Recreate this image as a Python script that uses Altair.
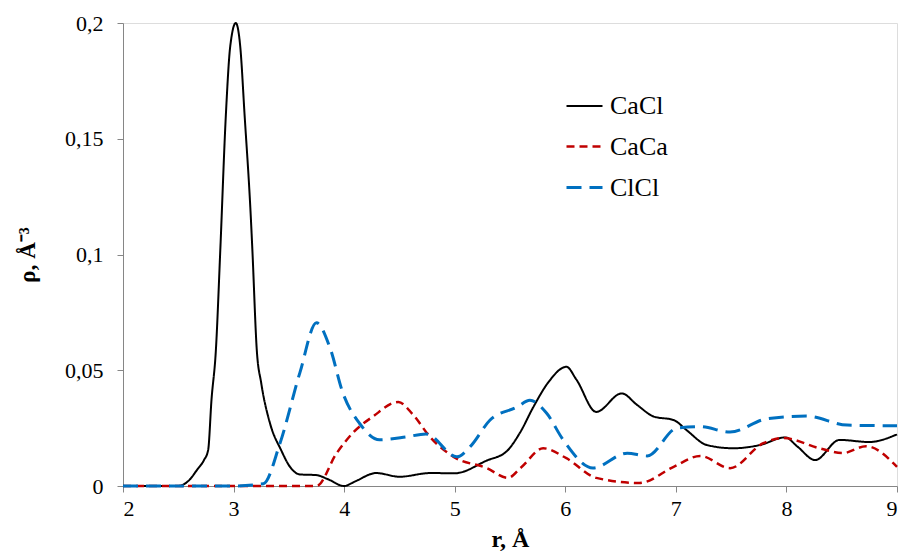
import altair as alt
import pandas as pd

# CaCl (solid black)
cacl_r = [2.0, 2.3, 2.5, 2.6, 2.67, 2.73, 2.77, 2.80, 2.84, 2.88, 2.93, 2.97, 3.02, 3.06, 3.10, 3.155,
          3.17, 3.21, 3.25, 3.33, 3.43, 3.51, 3.6, 3.75, 3.85, 4.0, 4.1, 4.29, 4.5, 4.78, 5.0, 5.29,
          5.47, 5.59, 5.71, 5.85, 6.01, 6.1, 6.28, 6.51, 6.65, 6.8, 6.98, 7.1, 7.28, 7.52, 7.76,
          7.99, 8.1, 8.26, 8.48, 8.75, 9.0]
cacl_v = [0, 0, 0, 0.0026, 0.007, 0.011, 0.0155, 0.037, 0.0587, 0.102, 0.16, 0.19, 0.2, 0.19, 0.16, 0.117,
          0.102, 0.0587, 0.0445, 0.027, 0.0155, 0.0083, 0.005, 0.0047, 0.003, 0.0, 0.002, 0.0056, 0.004,
          0.0056, 0.0055, 0.011, 0.015, 0.023, 0.034, 0.045, 0.0515, 0.046, 0.032, 0.040, 0.035, 0.030,
          0.0285, 0.024, 0.0177, 0.0163, 0.0177, 0.021, 0.017, 0.0112, 0.0199, 0.019, 0.0223]

# CaCa (red dashed)
caca_r = [2.0, 3.0, 3.75, 3.93, 4.08, 4.26, 4.49, 4.62, 4.78, 4.99, 5.29, 5.48, 5.6, 5.8, 6.01, 6.28,
          6.67, 6.98, 7.22, 7.49, 7.79, 7.97, 8.3, 8.51, 8.72, 9.0]
caca_v = [0, 0, 0, 0.014, 0.023, 0.030, 0.0363, 0.031, 0.021, 0.0126, 0.0077, 0.0035, 0.008, 0.0163,
          0.012, 0.0035, 0.0013, 0.0083, 0.013, 0.0077, 0.0185, 0.0207, 0.0163, 0.0142, 0.0172, 0.0083]

# ClCl (blue dashed)
clcl_r = [2.0, 3.0, 3.27, 3.42, 3.6, 3.75, 3.87, 3.99, 4.14, 4.32, 4.56, 4.74, 5.02, 5.14, 5.32, 5.56,
          5.68, 5.83, 5.98, 6.25, 6.56, 6.74, 7.01, 7.22, 7.49, 7.82, 8.18, 8.55, 9.0]
clcl_v = [0, 0, 0.001, 0.0185, 0.049, 0.0705, 0.060, 0.040, 0.027, 0.020, 0.0212, 0.0225, 0.0126, 0.017,
          0.0285, 0.034, 0.037, 0.0315, 0.020, 0.0078, 0.0142, 0.013, 0.025, 0.0256, 0.0233, 0.029,
          0.0302, 0.0263, 0.026]

series = ["CaCl", "CaCa", "ClCl"]
colors = ["#000000", "#C00000", "#0070C0"]
dashes = [[1, 0], [8, 5], [15, 8]]
widths = [2, 3, 3]
x_ticks = [2, 3, 4, 5, 6, 7, 8, 9]
y_ticks = [0, 0.05, 0.1, 0.15, 0.2]

rows = []
for name, rr, vv in [("CaCl", cacl_r, cacl_v), ("CaCa", caca_r, caca_v), ("ClCl", clcl_r, clcl_v)]:
    for i, (a, b) in enumerate(zip(rr, vv)):
        rows.append({"r": a, "rho": b, "series": name, "order": i})
df = pd.DataFrame(rows)

font = "Liberation Serif"
leg = alt.Legend(
    title=None, orient="none", legendX=442, legendY=64,
    symbolType="stroke", symbolSize=1296, labelFontSize=26, labelFont=font,
    labelColor="#000000", rowPadding=8, labelOffset=6, symbolStrokeWidth=3,
)

chart = alt.Chart(df).mark_line(interpolate="monotone").encode(
    x=alt.X("r:Q", scale=alt.Scale(domain=[2, 9], nice=False),
            axis=alt.Axis(values=x_ticks, title="r, Å", grid=False, labelFont=font, labelFontSize=22,
                          labelColor="#000000", titleFont=font, titleFontSize=24, titleFontWeight="bold",
                          titleColor="#000000", domainColor="#868686", tickColor="#868686", tickSize=6,
                          labelPadding=6, titlePadding=8)),
    y=alt.Y("rho:Q", scale=alt.Scale(domain=[0, 0.2], nice=False),
            axis=alt.Axis(values=y_ticks, title="ρ, Å⁻³", grid=False, labelFont=font, labelFontSize=22,
                          labelColor="#000000", titleFont=font, titleFontSize=23, titleFontWeight="bold",
                          titleColor="#000000", domainColor="#868686", tickColor="#868686", tickSize=6,
                          labelPadding=14, titlePadding=25,
                          labelExpr="replace(format(datum.value, '.2~f'), '.', ',')")),
    color=alt.Color("series:N", scale=alt.Scale(domain=series, range=colors), legend=leg),
    strokeDash=alt.StrokeDash("series:N", scale=alt.Scale(domain=series, range=dashes), legend=leg),
    strokeWidth=alt.StrokeWidth("series:N", scale=alt.Scale(domain=series, range=widths), legend=None),
    order="order:Q",
).properties(
    width=774, height=463,
    autosize=alt.AutoSizeParams(type="none"),
    padding={"left": 123, "top": 23, "right": 7, "bottom": 73},
).configure_view(stroke=None).configure(background="#ffffff")

chart.save("out.html", embed_options={"renderer": "svg", "actions": False})
